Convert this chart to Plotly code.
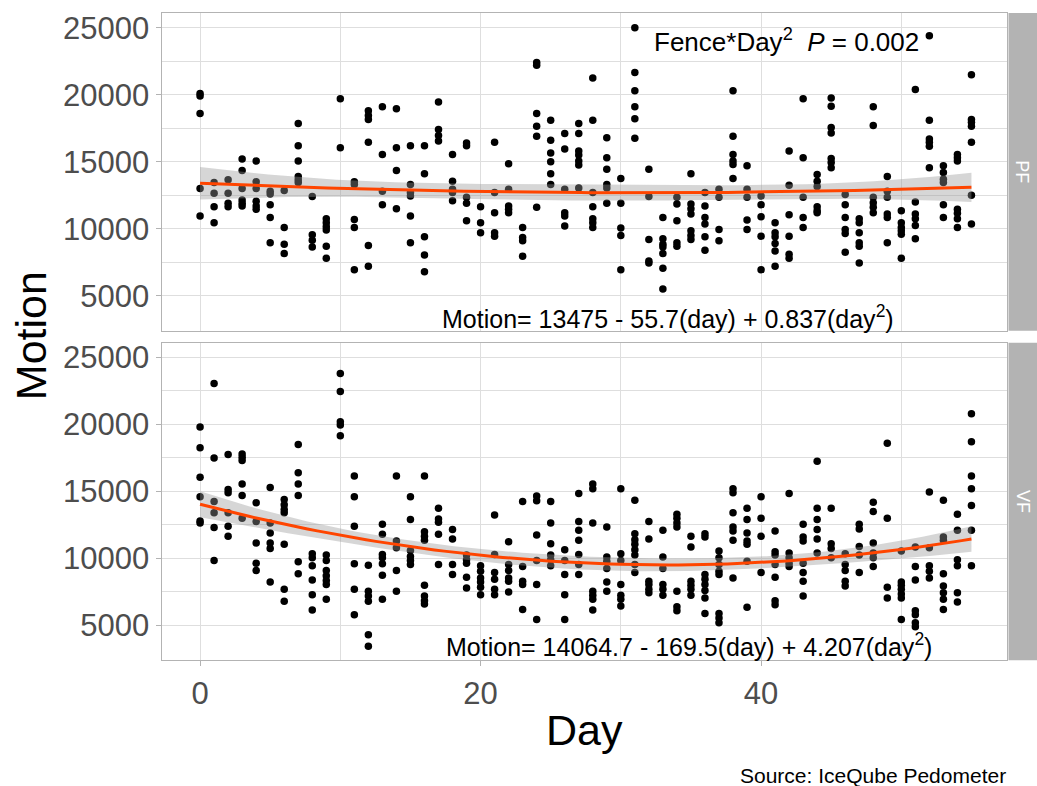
import numpy as np
import plotly.graph_objects as go

W, H = 1037, 786

# Motion values per day (index = day 0..55)
pf_by_day = [
    [20100, 19900, 18600, 13000, 10950],
    [13450, 12650, 11650, 10450],
    [13650, 12650, 11900, 11650],
    [15200, 14350, 13000, 12150, 11900, 11700],
    [15050, 13500, 13000, 12050, 11700, 11450],
    [12800, 12600, 11800, 10850, 8950],
    [12850, 10100, 8850, 8150],
    [17850, 16200, 15050, 13900, 13650, 13450],
    [12400, 9550, 9150, 8650],
    [10750, 10450, 10150, 9900, 8700, 7800],
    [19700, 16050],
    [13500, 13300, 10700, 10100, 6950],
    [18800, 18450, 18150, 16450, 8750, 7200],
    [19100, 15550, 12800, 11800],
    [18950, 16050, 14350, 11500],
    [16200, 13300, 12700, 12450, 10950, 8950],
    [16200, 14100, 9400, 8050, 6800],
    [19450, 17400, 16950, 16550],
    [15550, 13550, 12950, 12700, 12100],
    [16400, 16200, 12350, 11900, 10600],
    [11650, 10450, 9700],
    [16450, 12700, 11200, 9700, 9450],
    [14850, 12950, 11700, 11450, 11200],
    [10100, 9350, 9100, 7950],
    [22400, 22200, 18600, 17650, 16900, 11600],
    [18100, 16600, 15650, 15000, 14100, 13300],
    [17100, 15950, 12950, 11200, 10950, 10200],
    [17850, 17100, 15800, 15500, 15050, 14750, 13050],
    [21250, 18100, 12700, 11650, 10750, 10450, 10100],
    [16800, 15300, 14450, 13300, 13050, 11900],
    [13750, 11900, 10050, 9500, 6950],
    [25000, 21650, 20300, 19100, 18200, 16750],
    [14450, 12400, 9200, 7600, 7450],
    [10850, 9250, 8850, 8650, 8150, 7050, 5500],
    [12350, 11850, 10600, 8950, 8700],
    [14100, 11850, 11500, 11100, 9850, 9500, 9200],
    [12700, 11700, 10850, 10350, 9400, 8400],
    [12950, 12350, 9950, 9100],
    [20300, 16900, 15550, 15050, 14800, 13750],
    [14700, 12950, 12350, 10650, 9950],
    [12450, 11800, 10900, 9450, 6950],
    [10450, 9700, 9400, 8900, 8350, 7200],
    [15800, 13250, 11050, 9450, 8100, 7800],
    [19700, 15300, 12350, 10850, 10100],
    [14050, 13550, 13150, 11650, 11350, 11200],
    [19750, 19150, 17550, 17150, 15250, 14950, 14550],
    [12550, 11800, 10850, 9950, 9650, 8250],
    [10750, 10450, 9700, 8950, 8700, 7450],
    [19100, 17700, 12350, 11950, 11600, 11200],
    [13900, 12800, 12350, 11100, 10850, 8950],
    [11350, 10450, 10100, 9850, 9600, 7800],
    [20400, 12000, 11100, 10750, 10250, 9250],
    [24400, 18100, 16700, 16450, 16150, 14550],
    [14700, 14200, 13700, 13450, 11800, 10850],
    [15550, 15300, 15050, 11450, 11150, 10750, 10100],
    [21500, 18150, 17950, 17650, 16450, 12500, 10350],
]

vf_by_day = [
    [19800, 18250, 16050, 14600, 12800, 12650],
    [23050, 17500, 14250, 13400, 12300, 9850],
    [17750, 15150, 14900, 13400, 12400, 11650],
    [17800, 17550, 17300, 15550, 14700, 13000],
    [14150, 12750, 11150, 9650, 9100],
    [15300, 12650, 11900, 11150, 10750, 8250],
    [14400, 14000, 13650, 13400, 11050, 7700, 6800],
    [18500, 16400, 15550, 14700, 9750, 8850],
    [10350, 10050, 9450, 8400, 7300, 6150],
    [10250, 9850, 9100, 8700, 8350, 8050, 6950],
    [23800, 22450, 20200, 19950, 19150],
    [16150, 14600, 12400, 9600, 7700, 5800],
    [9500, 7550, 7200, 6800, 4300, 3450],
    [12550, 11800, 10300, 10050, 9600, 8750, 6950],
    [16150, 11300, 10800, 9100, 7550],
    [14600, 12900, 10600, 10150, 9850, 9550],
    [16150, 12000, 11650, 11350, 8000, 7200, 6850, 6600],
    [13750, 12950, 12700, 11800, 9550],
    [12150, 11450, 9550, 8800],
    [10250, 9900, 9650, 8600, 7800],
    [9450, 9050, 8550, 8250, 7850, 7300],
    [13250, 10300, 8950, 8450, 7700, 7300],
    [11250, 9550, 9100, 8550, 8300, 7500],
    [14250, 9400, 8300, 8050, 6200],
    [14650, 14300, 11750, 9850, 8050, 5450],
    [14250, 12650, 11100, 10250, 9900, 9450],
    [10650, 9850, 8800, 7300, 5450],
    [14850, 12750, 12100, 11350, 10300, 9550, 8800],
    [15550, 15200, 12650, 7550, 7250, 6950, 6150],
    [12350, 10100, 9800, 9250, 8250, 7550],
    [15200, 10350, 9850, 8050, 7250, 6950, 6450],
    [14350, 11850, 11400, 11050, 10650, 10250, 9550, 8950],
    [12750, 11450, 8300, 8050, 7700, 7450],
    [12100, 10100, 9250, 8050, 7700, 7250],
    [13300, 13000, 12650, 12350, 7550, 6400, 6100],
    [11650, 10850, 8300, 8000, 7700, 7250],
    [11850, 11600, 8800, 8450, 8050, 7600, 7050, 5900],
    [10550, 10050, 9550, 9050, 8800, 5900, 5550, 5200],
    [15200, 14900, 13400, 12350, 12050, 11350, 8550],
    [13750, 12900, 11900, 11300, 11050, 9800, 6350],
    [14600, 13000, 11650, 8950],
    [12050, 10500, 10250, 9550, 8600, 6850, 6550],
    [14850, 10400, 10050, 9650, 9400],
    [12550, 11600, 11300, 9650, 8950, 8300, 7200],
    [17250, 13750, 12900, 12150, 11450, 10400],
    [13750, 11100, 10750, 10050],
    [10350, 9550, 9100, 8300, 7950],
    [12550, 12200, 10900, 10250, 8950],
    [14200, 13500, 11150, 10400, 10050, 9400],
    [18600, 13000, 7850, 7050],
    [10550, 8250, 8000, 7700, 7350, 7050, 5450],
    [10850, 9400, 8400, 6100, 5800, 5200, 4900],
    [14950, 10800, 9450, 9050, 8550],
    [14350, 11600, 11350, 8850, 7950, 7450, 6950, 6200],
    [13300, 12100, 9900, 9450, 7450, 6750],
    [20800, 18700, 16150, 15200, 13950, 12100, 9450],
]

panel_labels = ["PF", "VF"]
x_ticks = [0, 20, 40]
x_minor = [10, 30, 50]
y_ticks = [5000, 10000, 15000, 20000, 25000]
y_ticktext = ["5000", "10000", "15000", "20000", "25000"]
y_minor = [7500, 12500, 17500, 22500]
eq_pf = "Motion= 13475 - 55.7(day) + 0.837(day<sup>2</sup>)"
eq_vf = "Motion= 14064.7 - 169.5(day) + 4.207(day<sup>2</sup>)"
p_text = "Fence*Day<sup>2</sup>  <i>P</i> = 0.002"
source_text = "Source: IceQube Pedometer"


def flatten(by_day):
    d, m = [], []
    for day, vals in enumerate(by_day):
        d += [day] * len(vals)
        m += vals
    return np.array(d, float), np.array(m, float)


def quad_fit(d, m, grid):
    X = np.column_stack([np.ones_like(d), d, d ** 2])
    beta, *_ = np.linalg.lstsq(X, m, rcond=None)
    resid = m - X @ beta
    n = len(m)
    s2 = resid @ resid / (n - 3)
    XtXi = np.linalg.inv(X.T @ X)
    G = np.column_stack([np.ones_like(grid), grid, grid ** 2])
    fit = G @ beta
    se = np.sqrt(s2 * np.einsum("ij,jk,ik->i", G, XtXi, G))
    t = 1.968
    return fit, fit - t * se, fit + t * se


FONT = "Liberation Sans, Arial, sans-serif"
fig = go.Figure()

for i, by_day in enumerate([pf_by_day, vf_by_day]):
    xa = "x" if i == 0 else "x2"
    ya = "y" if i == 0 else "y2"
    d, m = flatten(by_day)
    grid = np.linspace(d.min(), d.max(), 80)
    fit, lo, hi = quad_fit(d, m, grid)
    fig.add_trace(go.Scatter(x=d, y=m, mode="markers", xaxis=xa, yaxis=ya,
                             marker=dict(color="black", size=7.5), showlegend=False))
    fig.add_trace(go.Scatter(x=grid, y=hi, mode="lines", xaxis=xa, yaxis=ya,
                             line=dict(width=0), showlegend=False))
    fig.add_trace(go.Scatter(x=grid, y=lo, mode="lines", xaxis=xa, yaxis=ya,
                             line=dict(width=0), fill="tonexty",
                             fillcolor="rgba(153,153,153,0.4)", showlegend=False))
    fig.add_trace(go.Scatter(x=grid, y=fit, mode="lines", xaxis=xa, yaxis=ya,
                             line=dict(color="#FF4500", width=3), showlegend=False))

px_l, px_r = 161.5, 1006.5
top_dom = [1 - 329.5 / H, 1 - 11 / H]
bot_dom = [1 - 660 / H, 1 - 341.5 / H]
grid_col = "#dedede"
border_col = "#b3b3b3"
text_col = "#4d4d4d"

xcommon = dict(domain=[px_l / W, px_r / W], range=[-2.75, 57.5], tickvals=x_ticks,
               showgrid=True, gridcolor=grid_col, gridwidth=1.1, zeroline=False,
               minor=dict(tickvals=x_minor, showgrid=True, gridcolor=grid_col, gridwidth=0.6),
               showline=True, mirror=True, linecolor=border_col, linewidth=1)
ycommon = dict(range=[2400, 26100], tickvals=y_ticks, ticktext=y_ticktext,
               showgrid=True, gridcolor=grid_col,
               gridwidth=1.1, zeroline=False,
               minor=dict(tickvals=y_minor, showgrid=True, gridcolor=grid_col, gridwidth=0.6),
               showline=True, mirror=True, linecolor=border_col, linewidth=1,
               ticks="outside", ticklen=5, tickcolor=border_col, tickwidth=1,
               tickfont=dict(size=31, color=text_col, family=FONT))

fig.update_layout(
    width=W, height=H, margin=dict(l=0, r=0, t=0, b=0),
    paper_bgcolor="white", plot_bgcolor="white",
    font=dict(family=FONT),
    xaxis=dict(**xcommon, anchor="y", showticklabels=False, ticks=""),
    xaxis2=dict(**xcommon, anchor="y2", matches="x", ticks="outside", ticklen=5,
                tickcolor=border_col, tickwidth=1,
                tickfont=dict(size=31, color=text_col, family=FONT)),
    yaxis=dict(**ycommon, domain=top_dom, anchor="x"),
    yaxis2=dict(**ycommon, domain=bot_dom, anchor="x2"),
)


def note(x_px, y_px, text, size, color="black", angle=0, xanchor="center"):
    fig.add_annotation(xref="paper", yref="paper", x=x_px / W, y=1 - y_px / H, text=text,
                       showarrow=False, textangle=angle, xanchor=xanchor, yanchor="middle",
                       font=dict(size=size, color=color, family=FONT))


# facet strips
for lab, dom in zip(panel_labels, [top_dom, bot_dom]):
    fig.add_shape(type="rect", xref="paper", yref="paper", x0=1008.5 / W, x1=1.0,
                  y0=dom[0], y1=dom[1], fillcolor=border_col, line=dict(width=0), layer="below")
    y_mid_px = (1 - (dom[0] + dom[1]) / 2) * H
    note(1022.5, y_mid_px, lab, 18, color="white", angle=90)

# annotations inside panels
note(786, 39, p_text, 26)
note(668, 316, eq_pf, 25)
note(689, 645, eq_vf, 25)

# axis titles and caption
note(584, 730, "Day", 43)
note(31, 335, "Motion", 43, angle=-90)
note(1008, 775, source_text, 21, xanchor="right")

fig.write_html("out.html")
